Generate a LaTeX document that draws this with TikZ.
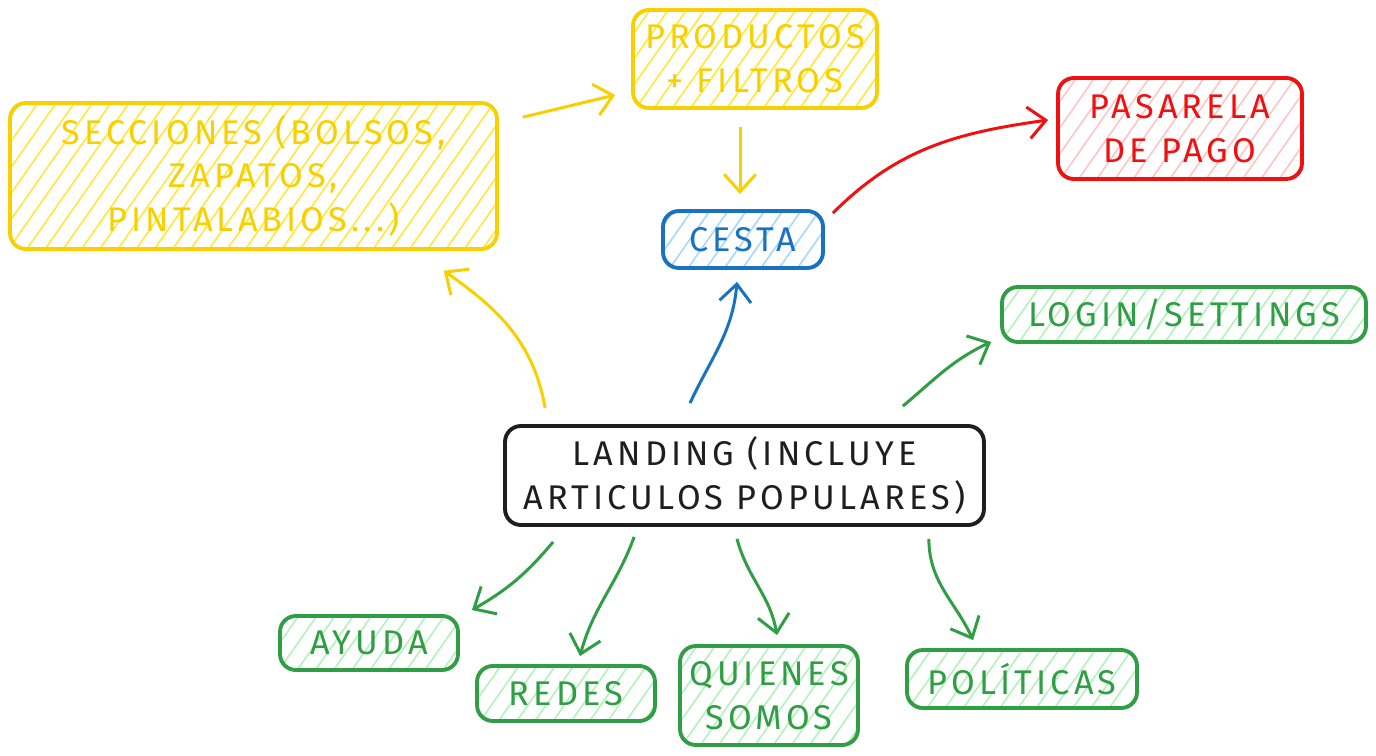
\documentclass[tikz,border=0pt]{standalone}
\usepackage{fontspec}
\setmainfont{Fira Sans}[LetterSpace=12]
\usetikzlibrary{arrows.meta,patterns.meta}
\definecolor{cyel}{HTML}{F8D000}
\definecolor{hyel}{HTML}{FFE83A}
\definecolor{cred}{HTML}{F01010}
\definecolor{hred}{HTML}{FFC4C4}
\definecolor{cblue}{HTML}{1971C2}
\definecolor{hblue}{HTML}{A5D8FF}
\definecolor{cgreen}{HTML}{2F9E44}
\definecolor{hgreen}{HTML}{B2F2BB}
\definecolor{cblack}{HTML}{1E1E1E}
\tikzset{
  box/.style={draw, rounded corners=9pt, line width=2.2pt, align=center, inner sep=0pt,
    font=\fontsize{19.5}{25}\selectfont},
  hatch/.style={pattern={Lines[angle=55,distance=8.5pt,line width=0.9pt]}, pattern color=#1},
  conn/.style={line width=1.7pt, -{Straight Barb[length=10pt,width=18pt,line width=1.7pt]}},
}
\begin{document}
\begin{tikzpicture}[x=0.02cm,y=-0.02cm]
\useasboundingbox (0,0) rectangle (1376,756);
\fill[white] (0,0) rectangle (1376,756);
% nodes
\node[box, draw=cyel, text=cyel, hatch=hyel, minimum width=9.74cm, minimum height=2.92cm] (sec) at (253.5,176) {SECCIONES (BOLSOS,\\ZAPATOS,\\PINTALABIOS...)};
\node[box, draw=cyel, text=cyel, hatch=hyel, minimum width=4.88cm, minimum height=1.96cm] (prod) at (755,59) {PRODUCTOS\\+ FILTROS};
\node[box, draw=cred, text=cred, hatch=hred, minimum width=4.88cm, minimum height=2.02cm] (pas) at (1180,128.5) {PASARELA\\DE PAGO};
\node[box, draw=cblue, text=cblue, hatch=hblue, minimum width=3.2cm, minimum height=1.14cm] (cesta) at (743,239.5) {CESTA};
\node[box, draw=cgreen, text=cgreen, hatch=hgreen, minimum width=7.28cm, minimum height=1.1cm] (login) at (1184,314.5) {LOGIN/SETTINGS};
\node[box, draw=cblack, text=cblack, fill=white, minimum width=9.58cm, minimum height=1.98cm] (land) at (744.5,475.5) {LANDING (INCLUYE\\ARTICULOS POPULARES)};
\node[box, draw=cgreen, text=cgreen, hatch=hgreen, minimum width=3.56cm, minimum height=1.08cm] (ayuda) at (369,643) {AYUDA};
\node[box, draw=cgreen, text=cgreen, hatch=hgreen, minimum width=3.56cm, minimum height=1.1cm] (redes) at (566,693.5) {REDES};
\node[box, draw=cgreen, text=cgreen, hatch=hgreen, minimum width=3.56cm, minimum height=1.98cm] (quien) at (769,695.5) {QUIENES\\SOMOS};
\node[box, draw=cgreen, text=cgreen, hatch=hgreen, minimum width=4.6cm, minimum height=1.16cm] (pol) at (1022,679) {POLÍTICAS};
% connectors
\draw[conn, cyel] ([shift={(25,15)}]sec.north east) -- ([shift={(-16,36)}]prod.west);
\draw[conn, cyel] ([shift={(-15,17)}]prod.south) -- ([shift={(-3,-15)}]cesta.north);
\draw[conn, cred] ([shift={(8,4)}]cesta.north east) to[out=45, in=188] ([shift={(-8,-8.5)}]pas.west);
\draw[conn, cyel] ([shift={(42,-16)}]land.north west) to[out=100, in=-35] ([shift={(-54,21)}]sec.south east);
\draw[conn, cblue] ([shift={(-54.5,-21)}]land.north) to[out=65, in=-95] ([shift={(-6,12)}]cesta.south);
\draw[conn, cgreen] ([shift={(-83,-18)}]land.north east) to[out=40, in=205] ([shift={(-9,-2)}]login.south west);
\draw[conn, cgreen] ([shift={(50,15)}]land.south west) to[out=-130, in=30] ([shift={(12,-4)}]ayuda.north east);
\draw[conn, cgreen] ([shift={(131,10)}]land.south west) to[out=-110, in=75] ([shift={(14,-8)}]redes.north);
\draw[conn, cgreen] ([shift={(-7.5,12)}]land.south) to[out=-75, in=100] ([shift={(8,-9)}]quien.north);
\draw[conn, cgreen] ([shift={(-57,12)}]land.south east) to[out=-90, in=115] ([shift={(68,-8)}]pol.north west);
\end{tikzpicture}
\end{document}
